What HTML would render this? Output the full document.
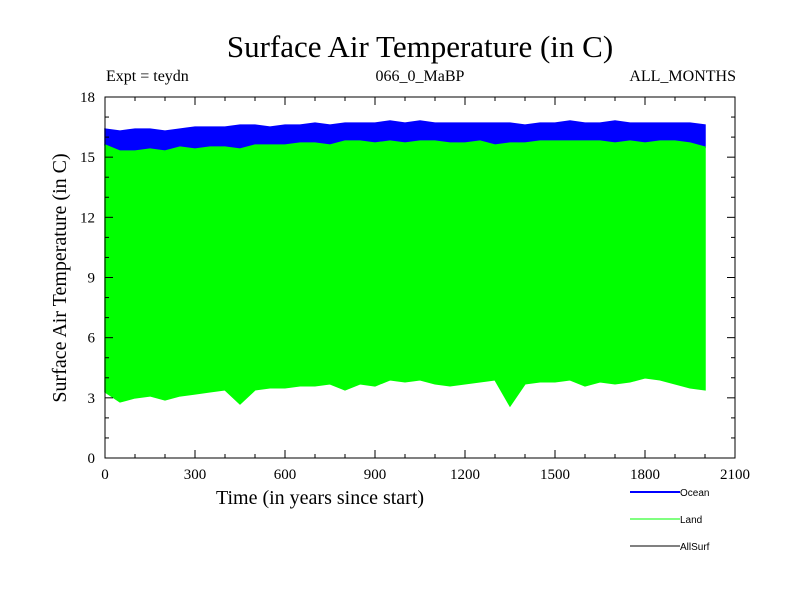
<!DOCTYPE html>
<html><head><meta charset="utf-8"><style>
body{margin:0;background:#fff;}
svg text{font-family:"Liberation Serif",serif;fill:#000;}
</style></head><body>
<svg id="c" width="800" height="600" viewBox="0 0 800 600">
<text x="420" y="57" font-size="31" text-anchor="middle">Surface Air Temperature (in C)</text>
<text x="106" y="81" font-size="16">Expt = teydn</text>
<text x="420" y="81" font-size="16" text-anchor="middle">066_0_MaBP</text>
<text x="736" y="81" font-size="16" text-anchor="end">ALL_MONTHS</text>
<g id="plot"></g>
<g id="axes"></g>
<text x="320" y="504" font-size="20" text-anchor="middle">Time (in years since start)</text>
<text transform="translate(66,278) rotate(-90)" font-size="20" text-anchor="middle">Surface Air Temperature (in C)</text>
<g>
<g><line x1="630" y1="492" x2="680" y2="492" stroke="#0000ff" stroke-width="2"/><text x="680" y="496" font-size="10" style="font-family:'Liberation Sans',sans-serif">Ocean</text></g>
<g><line x1="630" y1="519" x2="680" y2="519" stroke="#00ff00" stroke-width="1"/><text x="680" y="523" font-size="10" style="font-family:'Liberation Sans',sans-serif">Land</text></g>
<g><line x1="630" y1="546" x2="680" y2="546" stroke="#000" stroke-width="1"/><text x="680" y="550" font-size="10" style="font-family:'Liberation Sans',sans-serif">AllSurf</text></g>
</g>
</svg>
<script>
const years=[0,50,100,150,200,250,300,350,400,450,500,550,600,650,700,750,800,850,900,950,1000,1050,1100,1150,1200,1250,1300,1350,1400,1450,1500,1550,1600,1650,1700,1750,1800,1850,1900,1950,2000];
const oceanMax=[16.4,16.3,16.4,16.4,16.3,16.4,16.5,16.5,16.5,16.6,16.6,16.5,16.6,16.6,16.7,16.6,16.7,16.7,16.7,16.8,16.7,16.8,16.7,16.7,16.7,16.7,16.7,16.7,16.6,16.7,16.7,16.8,16.7,16.7,16.8,16.7,16.7,16.7,16.7,16.7,16.6];
const oceanMin=[15.6,15.3,15.3,15.4,15.3,15.5,15.4,15.5,15.5,15.4,15.6,15.6,15.6,15.7,15.7,15.6,15.8,15.8,15.7,15.8,15.7,15.8,15.8,15.7,15.7,15.8,15.6,15.7,15.7,15.8,15.8,15.8,15.8,15.8,15.7,15.8,15.7,15.8,15.8,15.7,15.5];
const landMin=[3.3,2.8,3.0,3.1,2.9,3.1,3.2,3.3,3.4,2.7,3.4,3.5,3.5,3.6,3.6,3.7,3.4,3.7,3.6,3.9,3.8,3.9,3.7,3.6,3.7,3.8,3.9,2.6,3.7,3.8,3.8,3.9,3.6,3.8,3.7,3.8,4.0,3.9,3.7,3.5,3.4];
const xTicks=[0,300,600,900,1200,1500,1800,2100];
const yTicks=[0,3,6,9,12,15,18];
const NS="http://www.w3.org/2000/svg";
const X0=105,X1=735,Y0=458,Y1=97;
const xs=v=>X0+(v/2100)*(X1-X0);
const ys=v=>Y0-(v/18)*(Y0-Y1);
function el(t,a,p){const e=document.createElementNS(NS,t);for(const k in a)e.setAttribute(k,a[k]);p.appendChild(e);return e;}
const plot=document.getElementById('plot'),axes=document.getElementById('axes');
function band(top,bot,color,name){
  let pts=[];
  years.forEach((y,i)=>{pts.push(xs(y)+','+ys(top[i]));});
  for(let i=years.length-1;i>=0;i--){pts.push(xs(years[i])+','+ys(bot[i]));}
  const p=el('polygon',{points:pts.join(' '),fill:color,stroke:color,'stroke-width':1.5,'stroke-linejoin':'miter'},plot);
  
  
}
band(oceanMax,oceanMin,'#0000ff','ocean-series');
band(oceanMin,landMin,'#00ff00','land-series');
const fr=el('rect',{x:X0,y:Y1,width:X1-X0,height:Y0-Y1,fill:'none',stroke:'#000','stroke-width':1},axes);


for(let v=0;v<=2100;v+=100){const L=v%300===0?8:4;el('line',{x1:xs(v),y1:Y0,x2:xs(v),y2:Y0-L,stroke:'#000'},axes);el('line',{x1:xs(v),y1:Y1,x2:xs(v),y2:Y1+L,stroke:'#000'},axes);}
for(let v=0;v<=18;v+=1){const L=v%3===0?8:4;el('line',{x1:X0,y1:ys(v),x2:X0+L,y2:ys(v),stroke:'#000'},axes);el('line',{x1:X1,y1:ys(v),x2:X1-L,y2:ys(v),stroke:'#000'},axes);}
xTicks.forEach(v=>{const t=el('text',{x:xs(v),y:Y0+21,'font-size':15,'text-anchor':'middle'},axes);t.textContent=v;

});
yTicks.forEach(v=>{const t=el('text',{x:X0-10,y:ys(v)+5,'font-size':15,'text-anchor':'end'},axes);t.textContent=v;

});
</script>
</body></html>
